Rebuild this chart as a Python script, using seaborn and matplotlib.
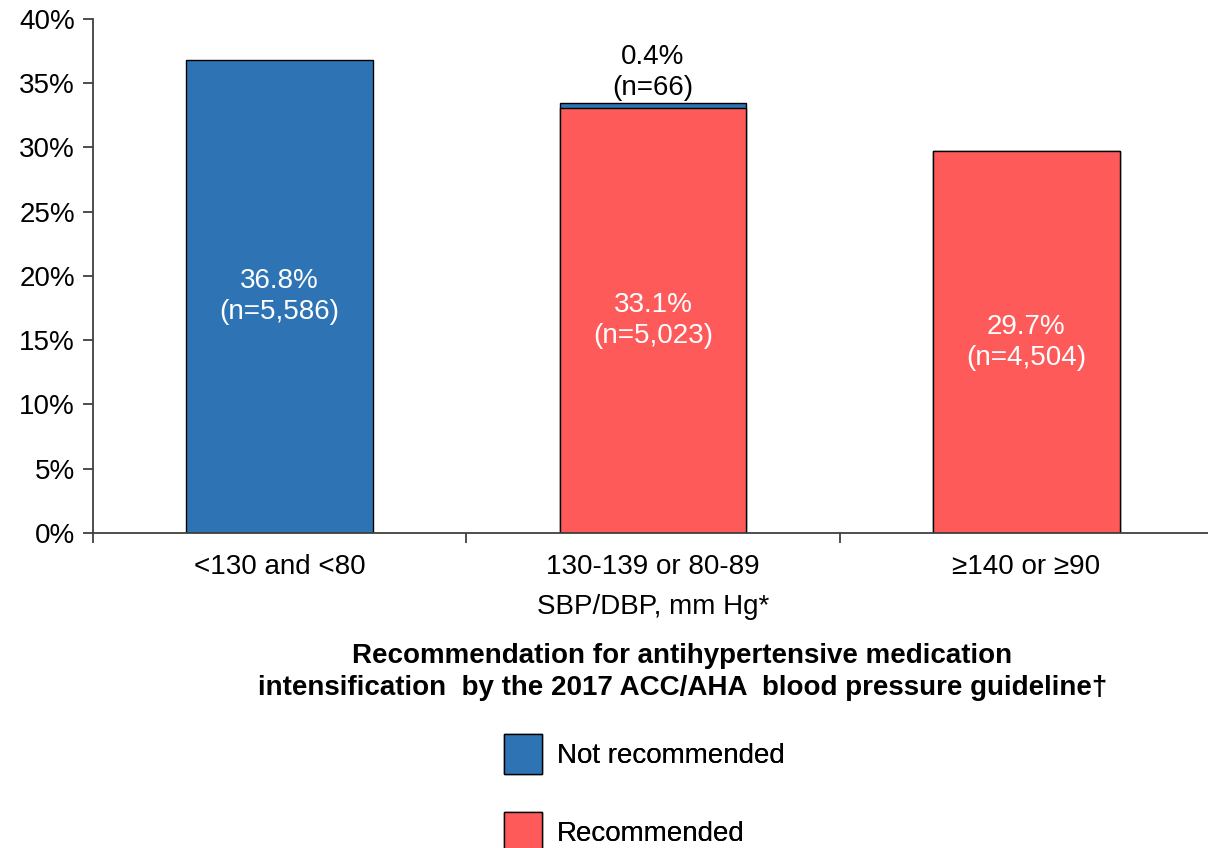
import matplotlib
matplotlib.use("Agg")
import matplotlib.pyplot as plt
from matplotlib.patches import Patch
from matplotlib.ticker import FixedLocator, PercentFormatter
import pandas as pd
import seaborn as sns

# Share of patients (%) by blood-pressure category and guideline recommendation
categories = ["<130 and <80", "130-139 or 80-89", "≥140 or ≥90"]
not_recommended = [36.8, 0.4, 0.0]
recommended = [0.0, 33.1, 29.7]
n_not_recommended = ["5,586", "66", None]
n_recommended = [None, "5,023", "4,504"]
legend_labels = ["Not recommended", "Recommended"]

blue = "#2E74B5"
red = "#FF5A5A"
FS = 20

sns.set_theme(style="white")
plt.rcParams["font.family"] = ["Liberation Sans", "DejaVu Sans"]
plt.rcParams["text.color"] = "black"

df = pd.DataFrame({
    "category": categories,
    "recommended": recommended,
    "total": [a + b for a, b in zip(recommended, not_recommended)],
})

fig = plt.figure(figsize=(12.08, 8.48), dpi=100)
ax = fig.add_axes([0.077, 0.3715, 0.927, 0.6061])

# Stacked bars: full height in blue, recommended part overlaid in red
sns.barplot(data=df, x="category", y="total", color=blue, width=0.5,
            edgecolor="black", linewidth=1.0, saturation=1, ax=ax)
sns.barplot(data=df[df["recommended"] > 0], x="category", y="recommended",
            order=categories, color=red, width=0.5,
            edgecolor="black", linewidth=1.0, saturation=1, ax=ax)

ax.set_xlim(-0.5, 2.5)
ax.set_ylim(0, 40)
ax.yaxis.set_major_locator(FixedLocator(range(0, 41, 5)))
ax.yaxis.set_major_formatter(PercentFormatter(decimals=0))

ax.xaxis.set_minor_locator(FixedLocator([-0.5, 0.5, 1.5, 2.5]))
ax.tick_params(axis="x", which="major", length=0, pad=15, labelsize=FS, colors="black")
ax.tick_params(axis="x", which="minor", length=7, width=1.3, color="#404040", direction="out", bottom=True)
ax.tick_params(axis="y", which="major", length=7, width=1.3, color="#404040", direction="out",
               left=True, labelsize=FS, labelcolor="black", pad=6)

for s in ["top", "right"]:
    ax.spines[s].set_visible(False)
for s in ["left", "bottom"]:
    ax.spines[s].set_color("#404040")
    ax.spines[s].set_linewidth(1.3)

ax.set_xlabel("SBP/DBP, mm Hg*", fontsize=FS, labelpad=10, color="black")
ax.set_ylabel("")

# Value labels
for i, cat in enumerate(categories):
    nr, rc = not_recommended[i], recommended[i]
    if rc > 0:
        ax.text(i, rc / 2, f"{rc:.1f}%\n(n={n_recommended[i]})", ha="center", va="center",
                color="white", fontsize=FS, linespacing=1.25)
    if nr > 0:
        if nr > 5:
            ax.text(i, rc + nr / 2, f"{nr:.1f}%\n(n={n_not_recommended[i]})", ha="center",
                    va="center", color="white", fontsize=FS, linespacing=1.25)
        else:
            ax.text(i, rc + nr + 0.1, f"{nr:.1f}%\n(n={n_not_recommended[i]})", ha="center",
                    va="bottom", color="black", fontsize=FS, linespacing=1.25)

fig.text(0.565, 0.208, "Recommendation for antihypertensive medication\n"
         "intensification  by the 2017 ACC/AHA  blood pressure guideline†",
         ha="center", va="center", fontsize=FS, fontweight="bold", linespacing=1.3,
         color="black")

# One legend box per entry so each row sits at its own height
for label, colour, top in zip(legend_labels, [blue, red], [0.1344, 0.0425]):
    leg = fig.legend(handles=[Patch(facecolor=colour, edgecolor="black", linewidth=1.0, label=label)],
                     loc="upper left", bbox_to_anchor=(0.417, top),
                     bbox_transform=fig.transFigure, frameon=False, fontsize=FS, labelcolor="black",
                     handlelength=1.37, handleheight=1.85, handletextpad=0.54,
                     borderaxespad=0, borderpad=0)
    fig.add_artist(leg)

fig.savefig("out.png", dpi=100)
